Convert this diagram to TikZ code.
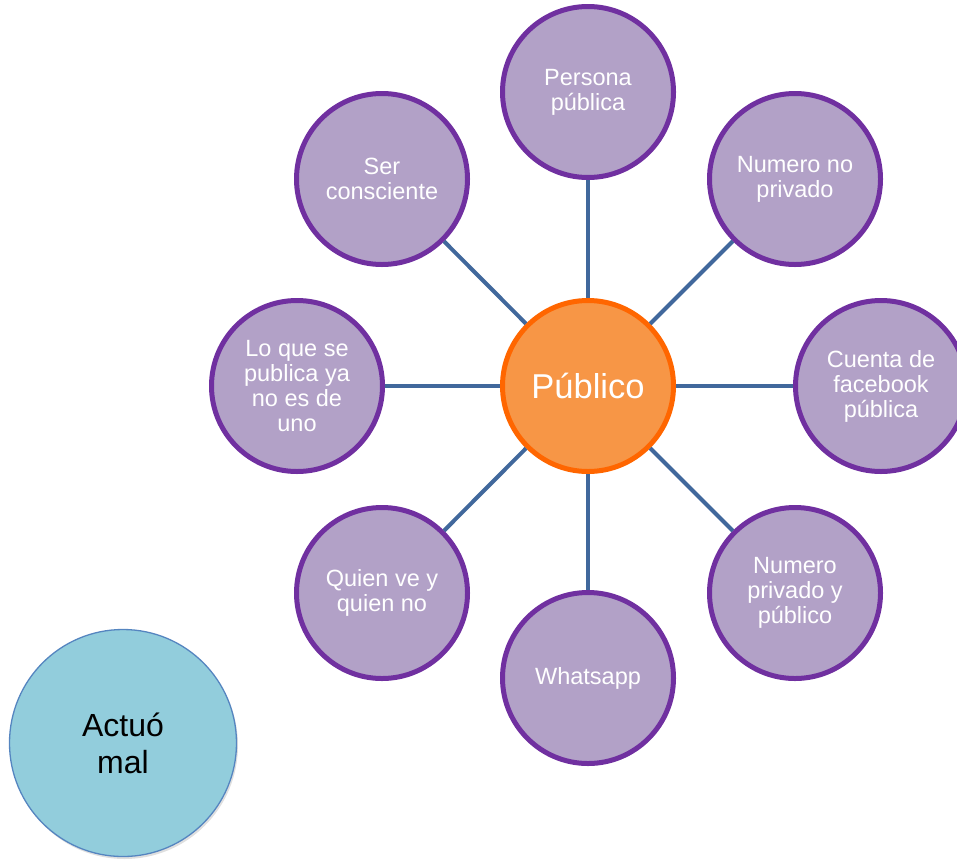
\documentclass[tikz,border=0pt]{standalone}
\usepackage{fontspec}
\setmainfont{Liberation Sans}
\usetikzlibrary{shadows}
\definecolor{purpfill}{HTML}{B2A1C7}
\definecolor{purpline}{HTML}{7030A0}
\definecolor{orfill}{HTML}{F79646}
\definecolor{orline}{HTML}{FF6600}
\definecolor{linkcol}{HTML}{41689C}
\definecolor{bluefill}{HTML}{92CDDC}
\definecolor{blueline}{HTML}{5585C0}
\tikzset{
  leaf/.style={circle, draw=purpline, fill=purpfill, line width=5pt,
    minimum size=171pt, inner sep=0pt, align=center, text=white,
    font=\fontsize{23.5}{25}\selectfont},
  hub/.style={circle, draw=orline, fill=orfill, line width=5pt,
    minimum size=171pt, inner sep=0pt, align=center, text=white,
    font=\fontsize{34.5}{40}\selectfont},
  side/.style={circle, draw=blueline, fill=bluefill, line width=1.3pt,
    minimum size=227pt, inner sep=0pt, align=center, text=black,
    font=\fontsize{32}{37}\selectfont,
    drop shadow={opacity=0.25, shadow xshift=1.5pt, shadow yshift=-2.5pt}},
  link/.style={draw=linkcol, line width=4pt}
}
\begin{document}
\begin{tikzpicture}[x=1pt,y=-1pt]
\useasboundingbox (0,0) rectangle (957,860);
\clip (0,0) rectangle (957,860);
\node[hub] (c) at (588,386) {Público};
\node[leaf] (n) at (588,92) {Persona\\pública};
\node[leaf] (ne) at (795,179) {Numero no\\privado};
\node[leaf] (e) at (881,386) {Cuenta de\\facebook\\pública};
\node[leaf] (se) at (795,593) {Numero\\privado y\\público};
\node[leaf] (s) at (588,678) {Whatsapp};
\node[leaf] (sw) at (382,593) {Quien ve y\\quien no};
\node[leaf] (w) at (297,386) {Lo que se\\publica ya\\no es de\\uno};
\node[leaf] (nw) at (382,179) {Ser\\consciente};
\node[side] (a) at (123,743) {Actuó\\mal};
\foreach \t in {n,ne,e,se,s,sw,w,nw}
  \draw[link] (c) -- (\t);
\end{tikzpicture}
\end{document}
